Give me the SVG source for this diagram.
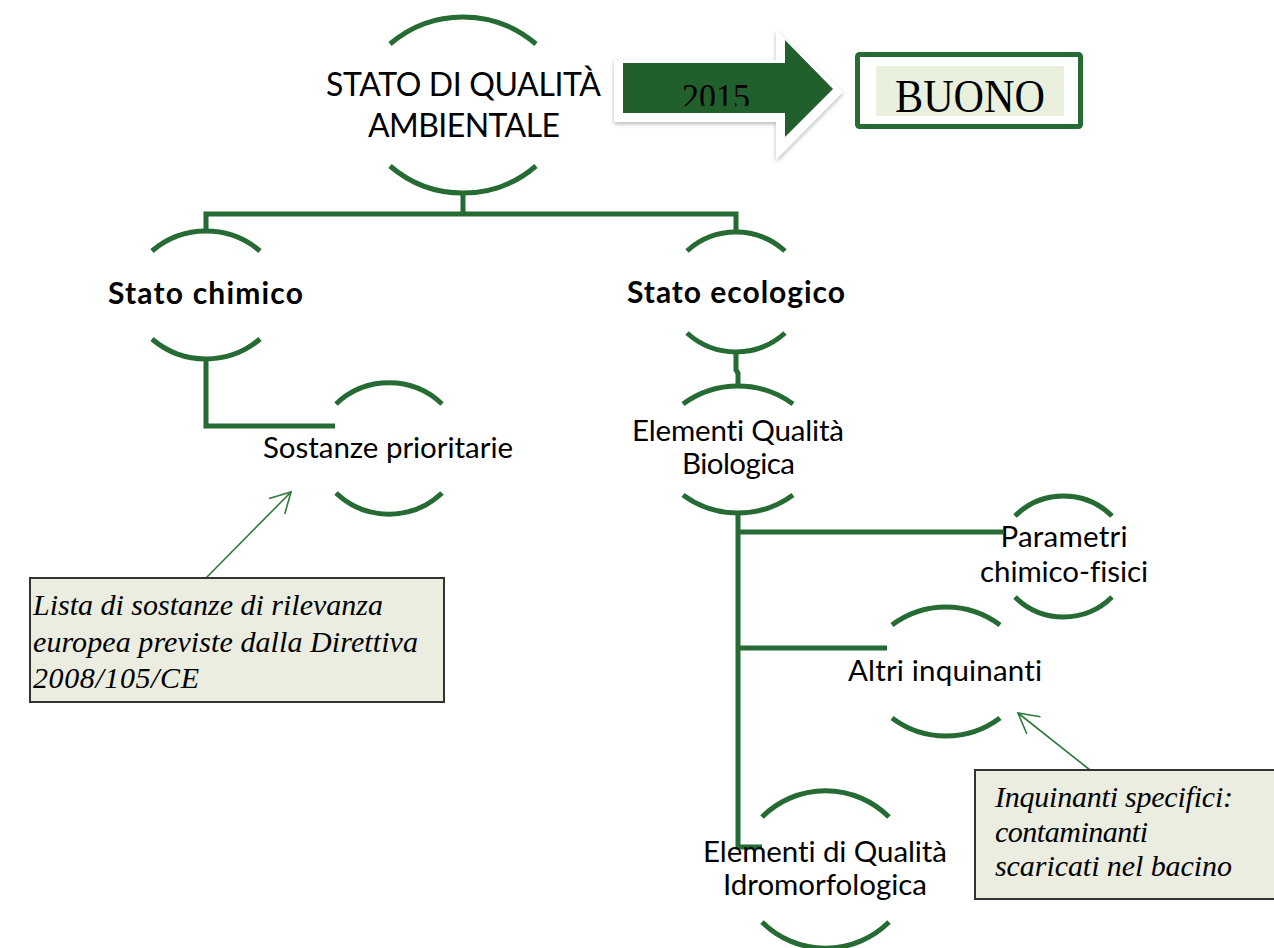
<svg xmlns="http://www.w3.org/2000/svg" width="1274" height="948" viewBox="0 0 1274 948">
<style>
.arc{fill:none;stroke:#256b33;stroke-width:5;stroke-linecap:butt}
.con{fill:none;stroke:#256b33;stroke-width:5}
.ann{fill:none;stroke:#2a7a3a;stroke-width:1.6}
.lbl{font-family:Lato,"Open Sans",sans-serif;font-size:29.5px;fill:#000;text-anchor:middle;font-variant-ligatures:none}
.big{font-size:32px}
.bold{font-weight:bold;font-size:30px}
.note{font-family:"Liberation Serif","DejaVu Serif",serif;font-style:italic;font-size:30px;fill:#000}
.box{fill:#eaede0;stroke:#333;stroke-width:2}
</style>
<defs>
<marker id="open" markerUnits="userSpaceOnUse" markerWidth="24" markerHeight="24" refX="22" refY="12" orient="auto">
<path d="M2,1 L22,12 L2,23" fill="none" stroke="#2a7a3a" stroke-width="1.6"/>
</marker>
<filter id="sh" x="-10%" y="-20%" width="130%" height="150%">
<feDropShadow dx="0" dy="2" stdDeviation="2" flood-color="#888" flood-opacity="0.6"/>
</filter>
<clipPath id="clip2015"><rect x="600" y="60" width="200" height="46"/></clipPath>
</defs>
<rect width="1274" height="948" fill="#fff"/>

<g id="connectors">
<path class="con" d="M463 191 V214"/>
<path class="con" d="M206 233 V214 H736 V234"/>
<path class="con" d="M206 361 V426 H335"/>
<path class="con" d="M736 353 V370 L738 373 V387"/>
<path class="con" d="M738 515 V847 H762"/>
<path class="con" d="M738 532 H1003"/>
<path class="con" d="M738 648 H887"/>
<line class="ann" x1="206" y1="578" x2="291" y2="492" marker-end="url(#open)"/>
<line class="ann" x1="1090" y1="770" x2="1018" y2="713" marker-end="url(#open)"/>
</g>

<g id="node-root">
<path class="arc" d="M390 44 A112 112 0 0 1 536 44"/>
<path class="arc" d="M390 166 A112 112 0 0 0 536 166"/>
<text class="lbl big" x="463.5" y="96" textLength="275">STATO DI QUALITÀ</text>
<text class="lbl big" x="464" y="137" textLength="192">AMBIENTALE</text>
</g>

<g id="arrow-2015">
<polygon points="614,60 776,60 776,30 843,92 776,160 776,122 614,122" fill="#fff" filter="url(#sh)"/>
<polygon points="623,63 785,63 785,40 833,89 785,137 785,113 623,113" fill="#215f2d"/>
<text x="716" y="109" clip-path="url(#clip2015)" font-family="Liberation Serif,serif" font-size="36" text-anchor="middle" textLength="68" lengthAdjust="spacingAndGlyphs" fill="#000">2015</text>
</g>

<g id="node-buono">
<rect x="857.5" y="54.5" width="223" height="72" rx="2" fill="#fff" stroke="#256b33" stroke-width="5"/>
<rect x="876" y="66" width="188" height="50" fill="#e9f1de"/>
<text x="970" y="112" font-family="Liberation Serif,serif" font-size="46" text-anchor="middle" textLength="150" lengthAdjust="spacingAndGlyphs" fill="#000">BUONO</text>
</g>

<g id="node-chimico">
<path class="arc" d="M152 251 A83 83 0 0 1 260 251"/>
<path class="arc" d="M152 339 A83 83 0 0 0 260 339"/>
<text class="lbl bold" x="205.5" y="304" textLength="195">Stato chimico</text>
</g>

<g id="node-ecologico">
<path class="arc" d="M687 251 A73 73 0 0 1 785 251"/>
<path class="arc" d="M687 333 A73 73 0 0 0 785 333"/>
<text class="lbl bold" x="736" y="303" textLength="218">Stato ecologico</text>
</g>

<g id="node-sostanze">
<path class="arc" d="M336 404 A77 77 0 0 1 442 404"/>
<path class="arc" d="M336 493 A77 77 0 0 0 442 493"/>
<text class="lbl" x="388" y="458" textLength="250">Sostanze prioritarie</text>
</g>

<g id="node-eqb">
<path class="arc" d="M683 404 A93 93 0 0 1 793 404"/>
<path class="arc" d="M683 495 A93 93 0 0 0 793 495"/>
<text class="lbl" x="738" y="441" textLength="212">Elementi Qualità</text>
<text class="lbl" x="738.5" y="474" textLength="113">Biologica</text>
</g>

<g id="node-parametri">
<path class="arc" d="M1015 516 A69 69 0 0 1 1112 516"/>
<path class="arc" d="M1015 597 A69 69 0 0 0 1112 597"/>
<text class="lbl" x="1064" y="547" textLength="127">Parametri</text>
<text class="lbl" x="1064" y="582" textLength="168">chimico-fisici</text>
</g>

<g id="node-altri">
<path class="arc" d="M892 625 A90 90 0 0 1 1000 625"/>
<path class="arc" d="M892 718 A90 90 0 0 0 1000 718"/>
<text class="lbl" x="945" y="681" textLength="194">Altri inquinanti</text>
</g>

<g id="node-idro">
<path class="arc" d="M762 817 A90 90 0 0 1 889 817"/>
<path class="arc" d="M762 922 A90 90 0 0 0 889 922"/>
<text class="lbl" x="825" y="862" textLength="244">Elementi di Qualità</text>
<text class="lbl" x="825" y="895" textLength="204">Idromorfologica</text>
</g>

<g id="note-lista">
<rect class="box" x="30" y="578" width="414" height="124"/>
<text class="note" x="33" y="615" textLength="350">Lista di sostanze di rilevanza</text>
<text class="note" x="33" y="652" textLength="385">europea previste dalla Direttiva</text>
<text class="note" x="33" y="688" textLength="166">2008/105/CE</text>
</g>

<g id="note-inquinanti">
<rect class="box" x="975" y="770" width="310" height="129"/>
<text class="note" x="995" y="807" textLength="238">Inquinanti specifici:</text>
<text class="note" x="995" y="842" textLength="153">contaminanti</text>
<text class="note" x="995" y="876" textLength="237">scaricati nel bacino</text>
</g>
</svg>
